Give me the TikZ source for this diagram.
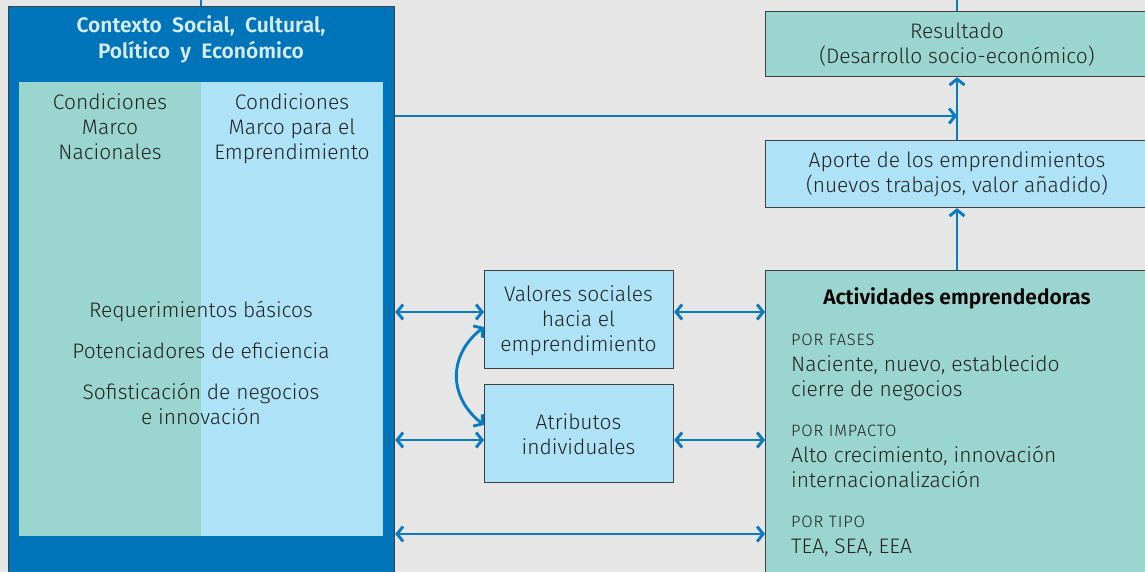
\documentclass[tikz,border=0pt]{standalone}
\usepackage{fontspec}
\setmainfont{Fira Sans}[UprightFont=* Light, BoldFont=* SemiBold]
\usetikzlibrary{arrows.meta}
\definecolor{bgcol}{HTML}{E6E6E6}
\definecolor{ctxblue}{HTML}{0074B8}
\definecolor{linecol}{HTML}{0A7BC1}
\definecolor{teal}{HTML}{9AD6CF}
\definecolor{lblue}{HTML}{AEE3F7}
\definecolor{titlecol}{HTML}{D6EDF8}
\definecolor{txt}{HTML}{222222}
\tikzset{
  boxframe/.style={draw=black!75, line width=1.2pt, inner sep=0pt, anchor=north west},
  txtnode/.style={text=txt, align=center, font=\fontsize{21}{25}\selectfont, inner sep=0pt},
  linetxt/.style={text=txt, font=\fontsize{21}{25}\selectfont, inner sep=0pt, anchor=base west},
  captxt/.style={text=txt, font=\fontsize{16.5}{20}\selectfont\addfontfeatures{LetterSpace=5}, inner sep=0pt, anchor=base west},
  conn/.style={draw=linecol, line width=2.9pt},
  dbl/.style={conn, {Straight Barb[length=6pt,width=15pt]}-{Straight Barb[length=6pt,width=15pt]}},
  sgl/.style={conn, -{Straight Barb[length=6pt,width=15pt]}},
  boldtxt/.style={font=\bfseries\fontsize{21}{26}\selectfont}
}
\begin{document}
\begin{tikzpicture}[x=1pt,y=-1pt]
\fill[bgcol] (0,0) rectangle (1145,572);
\useasboundingbox (0,0) rectangle (1145,572);
\clip (0,0) rectangle (1145,572);
% context box
\node[boxframe, fill=ctxblue, minimum width=386pt, minimum height=600pt] (ctx) at (8,6) {};
\node[fill=teal, minimum width=182pt, minimum height=454pt, inner sep=0pt, anchor=north west] (nat) at (19,82) {};
\node[fill=lblue, minimum width=182pt, minimum height=454pt, inner sep=0pt, anchor=north west] (emp) at (201,82) {};
\node[txtnode, text=titlecol, boldtxt] (title) at (201,39.5) {Contexto\ \ Social,\ \ Cultural,\\Político\ \ y\ \ Económico};
\node[txtnode, anchor=north] (natt) at (110,93) {Condiciones\\Marco\\Nacionales};
\node[txtnode, anchor=north] (empt) at (292,93) {Condiciones\\Marco para el\\Emprendimiento};
\node[txtnode] (req) at (201,311) {Requerimientos básicos};
\node[txtnode] (pot) at (201,351) {Potenciadores de eficiencia};
\node[txtnode] (sof) at (201,403.5) {Sofisticación de negocios\\e innovación};
% right boxes
\node[boxframe, fill=teal, minimum width=400pt, minimum height=65pt] (res) at (765,11) {};
\node[txtnode] (rest) at (957,45) {Resultado\\(Desarrollo socio-económico)};
\node[boxframe, fill=lblue, minimum width=400pt, minimum height=67pt] (apo) at (765,140) {};
\node[txtnode] (apot) at (957,174) {Aporte de los emprendimientos\\(nuevos trabajos, valor añadido)};
\node[boxframe, fill=teal, minimum width=400pt, minimum height=330pt] (act) at (765,270) {};
\node[txtnode, boldtxt, text=black] (actt) at (957,298) {Actividades emprendedoras};
\node[captxt] (fas) at (791,345.5) {POR FASES};
\node[linetxt] (fas1) at (791,371) {Naciente, nuevo, establecido};
\node[linetxt] (fas2) at (791,396) {cierre de negocios};
\node[captxt] (imp) at (791,436.5) {POR IMPACTO};
\node[linetxt] (imp1) at (791,462) {Alto crecimiento, innovación};
\node[linetxt] (imp2) at (791,487) {internacionalización};
\node[captxt] (tip) at (791,527.5) {POR TIPO};
\node[linetxt] (tip1) at (791,553) {TEA, SEA, EEA};
% middle boxes
\node[boxframe, fill=lblue, minimum width=189pt, minimum height=98pt] (val) at (484,270) {};
\node[txtnode] (valt) at (578.5,321) {Valores sociales\\hacia el\\emprendimiento};
\node[boxframe, fill=lblue, minimum width=189pt, minimum height=98pt] (atr) at (484,384) {};
\node[txtnode] (atrt) at (578.5,434) {Atributos\\individuales};
% off-canvas stubs
\coordinate (top1) at (201,-10);
\coordinate (top2) at (957,-10);
\draw[conn] (ctx.north -| top1) -- (top1);
\draw[conn] (res.north -| top2) -- (top2);
% connectors
\coordinate (jn) at (957,116);
\draw[sgl] (ctx.east |- jn) -- (jn);
\draw[sgl] (apo.north -| jn) -- (res.south -| jn);
\draw[sgl] (act.north -| jn) -- (apo.south -| jn);
\coordinate (r1) at (0,312);
\coordinate (r2) at (0,440);
\coordinate (r3) at (0,534);
\draw[dbl] (ctx.east |- r1) -- (val.west |- r1);
\draw[dbl] (val.east |- r1) -- (act.west |- r1);
\draw[dbl] (ctx.east |- r2) -- (atr.west |- r2);
\draw[dbl] (atr.east |- r2) -- (act.west |- r2);
\draw[dbl] (ctx.east |- r3) -- (act.west |- r3);
\coordinate (c1) at (484,327);
\coordinate (c2) at (484,425);
\draw[dbl] (c1) .. controls +(-36,28) and +(-36,-28) .. (c2);
\end{tikzpicture}
\end{document}
